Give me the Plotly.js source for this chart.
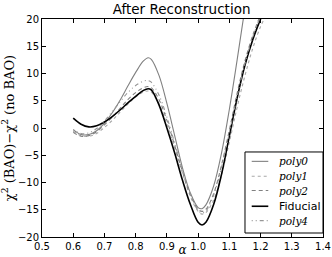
<!DOCTYPE html>
<html><head><meta charset="utf-8">
<script src="https://cdn.plot.ly/plotly-3.0.1.min.js"></script>
<style>html,body{margin:0;padding:0;background:#fff}#c{width:332px;height:257px}</style>
</head><body><div id="c"></div>
<script>
const alpha = [0.600,0.625,0.650,0.675,0.700,0.725,0.750,0.775,0.800,0.825,0.840,0.850,0.875,0.900,0.925,0.950,0.975,1.000,1.0125,1.025,1.050,1.075,1.100,1.125,1.150,1.175,1.200,1.225];
const poly0 = [-0.3,-1.2,-1.2,-0.5,0.9,2.8,5.1,7.7,10.2,12.3,12.9,12.6,9.6,4.5,-1.4,-7.3,-11.9,-14.6,-14.8,-14.1,-10.6,-4.6,3.4,12.5,22.0];
const poly1 = [-0.6,-1.4,-1.5,-1.0,0.1,1.4,2.9,4.4,5.7,6.6,6.8,6.6,4.4,0.7,-3.7,-8.3,-12.5,-15.3,-15.8,-15.5,-13.2,-8.6,-2.6,3.8,9.6,14.6,18.6,21.5];
const poly2 = [-0.8,-1.5,-1.4,-0.7,0.6,2.0,3.6,5.2,6.5,7.4,7.6,7.4,5.2,1.4,-3.2,-8.0,-12.2,-14.9,-15.3,-14.9,-12.0,-6.8,-0.4,6.4,12.3,17.0,20.8];
const fiducial = [1.8,0.7,0.2,0.4,1.1,2.1,3.3,4.6,5.8,6.9,7.2,7.0,4.2,0.0,-4.6,-9.6,-14.0,-17.3,-17.8,-17.3,-14.0,-8.5,-1.5,5.5,11.5,16.2,20.0,23.5];
const poly4 = [-0.3,-1.0,-0.9,-0.1,1.3,3.0,4.8,6.5,7.8,8.6,8.7,8.4,6.0,2.0,-2.8,-7.8,-12.2,-15.1,-15.6,-15.2,-12.3,-7.2,-0.9,5.8,11.8,16.7,20.5];
const seriesNames = ['poly0','poly1','poly2','Fiducial','poly4'];
const xTicks = [0.5,0.6,0.7,0.8,0.9,1.0,1.1,1.2,1.3,1.4];
const yTicks = [-20,-15,-10,-5,0,5,10,15,20];

const styles = [
  {color: '#808080', width: 1.1, dash: 'solid', italic: true},
  {color: '#a8a8a8', width: 1.1, dash: 'dot', italic: true},
  {color: '#808080', width: 1.1, dash: '4px,3px', italic: true},
  {color: '#000000', width: 1.6, dash: 'solid', italic: false},
  {color: '#969696', width: 1.1, dash: '1px,3px,1px,3px,4px,3px', italic: true}
];
const series = [poly0, poly1, poly2, fiducial, poly4];
const data = series.map((y, i) => ({
  x: alpha.slice(0, y.length), y: y, name: seriesNames[i], type: 'scatter', mode: 'lines', showlegend: false,
  line: {color: styles[i].color, width: styles[i].width, dash: styles[i].dash, shape: 'spline', smoothing: 1}
}));

// hand-built legend box (matplotlib style)
const lgX0 = 0.7224, lgX1 = 1.0, lgY0 = 0.0183, lgY1 = 0.39;
const rowY = [0.347, 0.279, 0.213, 0.141, 0.075];
const shapes = [{type: 'rect', xref: 'paper', yref: 'paper', x0: lgX0, x1: lgX1, y0: lgY0, y1: lgY1,
                 line: {color: '#000', width: 1}, fillcolor: '#fff', layer: 'above'}];
const annotations = [];
seriesNames.forEach((n, i) => {
  shapes.push({type: 'line', xref: 'paper', yref: 'paper', x0: 0.7463, x1: 0.8053, y0: rowY[i], y1: rowY[i],
               line: {color: styles[i].color, width: styles[i].width, dash: styles[i].dash}, layer: 'above'});
  annotations.push({xref: 'paper', yref: 'paper', x: 0.835, y: rowY[i], xanchor: 'left', yanchor: 'middle',
    showarrow: false, text: styles[i].italic ? '<i>' + n + '</i>' : n,
    font: styles[i].italic ? {family: 'DejaVu Serif', size: 10.5, color: '#000'} : {family: 'DejaVu Sans', size: 11, color: '#000'}});
});

const ax = {showline: true, linecolor: '#000', linewidth: 1, mirror: 'allticks', ticks: 'inside',
            ticklen: 4, tickcolor: '#000', showgrid: false, zeroline: false,
            tickfont: {family: 'DejaVu Sans', size: 10, color: '#000'}};
const layout = {
  width: 332, height: 257, margin: {l: 42, r: 9, t: 19, b: 20},
  paper_bgcolor: '#fff', plot_bgcolor: '#fff', showlegend: false,
  title: {text: 'After Reconstruction', font: {family: 'DejaVu Sans', size: 13.5, color: '#000'},
          x: 0.547, xanchor: 'center', y: 0.962, yanchor: 'middle'},
  xaxis: Object.assign({}, ax, {range: [0.5, 1.4], tickvals: xTicks, ticktext: xTicks.map(v => v.toFixed(1)),
          title: {text: '<i>α</i>', font: {family: 'DejaVu Serif', size: 12, color: '#000'}, standoff: 0}}),
  yaxis: Object.assign({}, ax, {range: [-20, 20], tickvals: yTicks,
          title: {text: 'χ<sup>2</sup> (BAO)−χ<sup>2</sup> (no BAO)', font: {family: 'DejaVu Serif', size: 13, color: '#000'}, standoff: 0}}),
  shapes: shapes, annotations: annotations
};
Plotly.newPlot('c', data, layout, {staticPlot: true, displayModeBar: false});
</script></body></html>
